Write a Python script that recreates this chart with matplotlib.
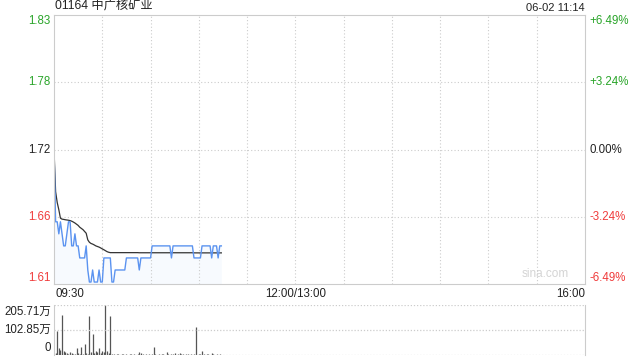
import numpy as np
import matplotlib.pyplot as plt

plt.rcParams['font.family'] = ['Liberation Sans', 'Noto Sans CJK SC', 'DejaVu Sans']

# intraday data, one value per minute from 09:30 to 11:14
price = [1.72, 1.66, 1.66, 1.65, 1.66, 1.65, 1.64, 1.64, 1.65, 1.66,
         1.66, 1.64, 1.64, 1.65, 1.64, 1.64, 1.63, 1.63, 1.63, 1.63,
         1.64, 1.62, 1.61, 1.61, 1.62, 1.61, 1.61, 1.61, 1.62, 1.61,
         1.61, 1.63, 1.63, 1.63, 1.63, 1.63, 1.61, 1.61, 1.62, 1.62,
         1.62, 1.62, 1.62, 1.62, 1.62, 1.63, 1.63, 1.63, 1.63, 1.63,
         1.63, 1.63, 1.63, 1.62, 1.63, 1.63, 1.63, 1.63, 1.63, 1.63,
         1.63, 1.64, 1.64, 1.64, 1.64, 1.64, 1.64, 1.64, 1.64, 1.64,
         1.64, 1.64, 1.64, 1.63, 1.64, 1.64, 1.64, 1.64, 1.64, 1.64,
         1.64, 1.64, 1.64, 1.64, 1.64, 1.64, 1.64, 1.63, 1.63, 1.63,
         1.63, 1.63, 1.64, 1.64, 1.64, 1.64, 1.64, 1.64, 1.63, 1.64,
         1.64, 1.64, 1.63, 1.64, 1.64]

avg_price = [1.7200, 1.6850, 1.6760, 1.6700, 1.6630, 1.6622, 1.6620, 1.6617, 1.6615, 1.6613,
             1.6610, 1.6605, 1.6598, 1.6590, 1.6580, 1.6570, 1.6555, 1.6545, 1.6535, 1.6520,
             1.6505, 1.6450, 1.6430, 1.6420, 1.6415, 1.6408, 1.6400, 1.6395, 1.6390, 1.6383,
             1.6375, 1.6368, 1.6360, 1.6352, 1.6347, 1.6344, 1.6344, 1.6344, 1.6344, 1.6344,
             1.6344, 1.6344, 1.6344, 1.6344, 1.6344, 1.6344, 1.6344, 1.6344, 1.6344, 1.6344,
             1.6344, 1.6344, 1.6344, 1.6343, 1.6343, 1.6343, 1.6343, 1.6343, 1.6343, 1.6343,
             1.6343, 1.6343, 1.6343, 1.6343, 1.6343, 1.6343, 1.6343, 1.6343, 1.6343, 1.6343,
             1.6343, 1.6343, 1.6343, 1.6343, 1.6343, 1.6343, 1.6343, 1.6343, 1.6343, 1.6343,
             1.6343, 1.6343, 1.6343, 1.6343, 1.6343, 1.6343, 1.6343, 1.6342, 1.6342, 1.6342,
             1.6342, 1.6342, 1.6342, 1.6342, 1.6342, 1.6342, 1.6342, 1.6342, 1.6342, 1.6342,
             1.6342, 1.6342, 1.6342, 1.6342, 1.6342]

# volume in 万 shares
volume = [5, 8, 100, 28, 20, 165, 15, 12, 8, 5,
          12, 10, 4, 6, 30, 8, 5, 31, 6, 45,
          10, 6, 160, 12, 88, 10, 15, 12, 28, 10,
          15, 12, 205.71, 15, 10, 160, 5, 3, 2, 4,
          3, 2, 3, 5, 2, 3, 2, 4, 3, 2,
          3, 2, 4, 13, 8, 3, 2, 3, 2, 3,
          2, 4, 34, 3, 2, 3, 2, 4, 3, 2,
          13, 3, 2, 6, 3, 10, 2, 3, 8, 4,
          3, 2, 4, 3, 2, 3, 2, 3, 116, 2,
          3, 4, 16, 3, 2, 3, 4, 2, 8, 3,
          2, 3, 2, 3, 2]

prev_close = 1.72
pct_levels = [6.49, 3.24, 0.0, -3.24, -6.49]
vol_ticks = [205.71, 102.85, 0]
vol_labels = ['205.71万', '102.85万', '0']
title = '01164 中广核矿业'
stamp = '06-02 11:14'

green = '#2aa52a'
red = '#f03c3c'
grid_c = '#cccccc'
txt_c = '#222222'

minutes = np.arange(len(price))
levels = [prev_close * (1 + p / 100) for p in pct_levels]

fig = plt.figure(figsize=(6.4, 3.6), dpi=100)
ax = fig.add_axes([54 / 640, 1 - 284 / 360, 531 / 640, 269 / 360])
axv = fig.add_axes([54 / 640, 5 / 360, 531 / 640, 50 / 360])

# main price panel
ax.set_xlim(0, 330)
ax.set_ylim(levels[-1], levels[0])
for m in range(30, 330, 30):
    ax.axvline(m, color=grid_c, lw=0.8, ls=(0, (1, 2)))
for lv in levels[1:-1]:
    ax.axhline(lv, color=grid_c, lw=0.8, ls=(0, (1, 2)))
ax.fill_between(minutes, price, levels[-1], color='#6fa3f5', alpha=0.05, lw=0)
ax.plot(minutes, avg_price, color='#333333', lw=0.9)
ax.plot(minutes, price, color='#5b93f0', lw=1.0)
for s in ax.spines.values():
    s.set_color(grid_c)
ax.set_xticks([])
ax.set_yticks([])

cols = [green, green, txt_c, red, red]
for lv, p, c in zip(levels, pct_levels, cols):
    y = min(max(lv, levels[-1] + 0.005), levels[0] - 0.005)
    ax.text(-0.006, y, f'{lv:.2f}', transform=ax.get_yaxis_transform(),
            ha='right', va='center', fontsize=8.3, color=c)
    lab = f'{p:+.2f}%' if p != 0 else '0.00%'
    ax.text(1.008, y, lab, transform=ax.get_yaxis_transform(),
            ha='left', va='center', fontsize=8.3, color=c)

ax.text(0.002, 1.008, title, transform=ax.transAxes, ha='left', va='bottom',
        fontsize=8.8, color=txt_c)
ax.text(1.0, 1.008, stamp, transform=ax.transAxes, ha='right', va='bottom',
        fontsize=8, color=txt_c)
ax.text(0.925, 0.015, 'sina.com', transform=ax.transAxes, ha='center', va='bottom',
        fontsize=8.5, color='#d4d4d4')

ax.text(0.002, -0.015, '09:30', transform=ax.transAxes, ha='left', va='top', fontsize=8.3, color=txt_c)
ax.text(150 / 330, -0.015, '12:00/13:00', transform=ax.transAxes, ha='center', va='top',
        fontsize=8.3, color=txt_c)
ax.text(1.0, -0.015, '16:00', transform=ax.transAxes, ha='right', va='top', fontsize=8.3, color=txt_c)

# volume panel
axv.set_xlim(0, 330)
axv.set_ylim(0, vol_ticks[0])
axv.vlines(minutes, 0, volume, color='#555555', lw=0.9)
for v in vol_ticks:
    axv.axhline(v, color=grid_c, lw=0.9, ls=(0, (1, 1.5)))
axv.spines['top'].set_visible(False)
axv.spines['bottom'].set_visible(False)
axv.spines['left'].set_color(grid_c)
axv.spines['right'].set_color(grid_c)
axv.set_xticks([])
axv.set_yticks([])
vol_pos = [vol_ticks[0] * 0.86, vol_ticks[1], vol_ticks[0] * 0.14]
for yv, lab in zip(vol_pos, vol_labels):
    axv.text(-0.006, yv, lab, transform=axv.get_yaxis_transform(), ha='right', va='center',
             fontsize=8.3, color=txt_c)

fig.savefig('out.png', dpi=100)
